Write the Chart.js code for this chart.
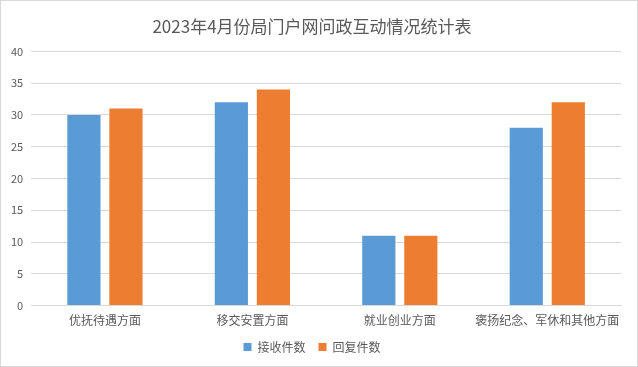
<!DOCTYPE html>
<html>
<head>
<meta charset="utf-8">
<script src="https://cdn.jsdelivr.net/npm/chart.js@4"></script>
<style>
  html, body { margin: 0; padding: 0; background: #fff; }
  #wrap { position: relative; width: 638px; height: 367px; box-sizing: border-box; border: 1px solid #d9d9d9; }
</style>
</head>
<body>
<div id="wrap"><canvas id="chart"></canvas></div>
<script>
// data
const categories = ['优抚待遇方面', '移交安置方面', '就业创业方面', '褒扬纪念、军休和其他方面'];
const received = [30, 32, 11, 28];
const replied = [31, 34, 11, 32];
const seriesNames = ['接收件数', '回复件数'];

const FONT = '"Microsoft YaHei", "Noto Sans CJK SC", "DejaVu Sans", sans-serif';
const GREY = '#595959';

new Chart(document.getElementById('chart'), {
    type: 'bar',
    data: {
        labels: categories,
        datasets: [
            { label: seriesNames[0], data: received, backgroundColor: '#5b9bd5', categoryPercentage: 0.57, barPercentage: 0.79 },
            { label: seriesNames[1], data: replied, backgroundColor: '#ed7d31', categoryPercentage: 0.57, barPercentage: 0.79 }
        ]
    },
    options: {
        responsive: true,
        maintainAspectRatio: false,
        animation: false,
        layout: { padding: { left: 2, right: 16, top: 11, bottom: 3 } },
        plugins: {
            title: {
                display: true,
                text: '2023年4月份局门户网问政互动情况统计表',
                color: GREY,
                font: { family: FONT, size: 17, weight: 'normal' },
                padding: { top: 4, bottom: 15 }
            },
            legend: {
                position: 'bottom',
                labels: {
                    color: GREY,
                    font: { family: FONT, size: 12 },
                    boxWidth: 8,
                    boxHeight: 8,
                    padding: 13
                }
            },
            tooltip: { enabled: false }
        },
        scales: {
            x: {
                grid: { display: false },
                border: { color: '#d9d9d9' },
                ticks: { color: GREY, font: { family: FONT, size: 12 }, maxRotation: 0, autoSkip: false, padding: 0 }
            },
            y: {
                min: 0,
                max: 40,
                ticks: { stepSize: 5, color: GREY, font: { family: FONT, size: 11 }, padding: 8 },
                grid: { color: '#d9d9d9', drawTicks: false },
                border: { display: false }
            }
        }
    }
});
</script>
</body>
</html>
